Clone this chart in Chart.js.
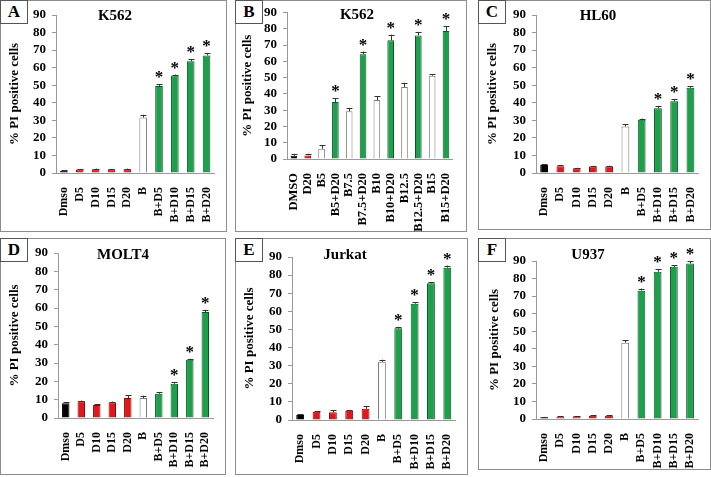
<!DOCTYPE html>
<html>
<head>
<meta charset="utf-8">
<script src="https://cdn.jsdelivr.net/npm/chart.js@4.4.1/dist/chart.umd.min.js"></script>
<style>
    body { margin: 0; background: #fff; width: 711px; height: 477px; position: relative; overflow: hidden; }
    .panel { position: absolute; box-sizing: border-box; border: 1px solid #8c8c8c; }
    .panel canvas { position: absolute; left: -1px; top: -1px; }
    .tag {
        position: absolute; left: -1px; top: -1px; width: 28px; height: 24px;
        box-sizing: border-box; border: 1px solid #555; background: #fff;
        font: bold 17px "Liberation Serif", serif; text-align: center; line-height: 22px;
    }
</style>
</head>
<body>
<script>
// categories
const stdLabels = ['Dmso', 'D5', 'D10', 'D15', 'D20', 'B', 'B+D5', 'B+D10', 'B+D15', 'B+D20'];
const labelsB = ['DMSO', 'D20', 'B5', 'B5+D20', 'B7.5', 'B7.5+D20', 'B10', 'B10+D20', 'B12.5', 'B12.5+D20', 'B15', 'B15+D20'];

// % PI positive cells (mean, error, significance)
const valuesA = [1.2, 2.0, 2.2, 2.0, 2.2, 31.6, 49.6, 55.5, 63.6, 67.0];
const errorsA = [0.3, 0.3, 0.3, 0.3, 0.3, 1.6, 1.0, 0.6, 1.2, 1.3];
const starsA = [0, 0, 0, 0, 0, 0, 1, 1, 1, 1];

const valuesB = [2.0, 2.2, 6.3, 35.0, 29.4, 64.4, 36.2, 72.9, 44.3, 75.9, 51.2, 78.7];
const errorsB = [1.2, 1.0, 2.0, 2.3, 2.0, 1.6, 2.5, 3.5, 2.5, 2.2, 1.0, 3.0];
const starsB = [0, 0, 0, 1, 0, 1, 0, 1, 0, 1, 0, 1];

const valuesC = [4.6, 3.9, 2.7, 3.7, 3.7, 26.5, 30.3, 36.9, 40.8, 48.5];
const errorsC = [0.4, 0.4, 0.3, 0.4, 0.5, 1.2, 0.7, 1.0, 1.2, 0.8];
const starsC = [0, 0, 0, 0, 0, 0, 0, 1, 1, 1];

const valuesD = [8.1, 9.2, 7.1, 8.5, 10.9, 10.9, 13.2, 18.7, 31.8, 57.8];
const errorsD = [0.4, 0.3, 0.3, 0.5, 1.5, 1.3, 0.9, 1.0, 0.5, 1.2];
const starsD = [0, 0, 0, 0, 0, 0, 0, 1, 1, 1];

const valuesE = [2.8, 4.6, 4.3, 5.1, 6.2, 32.1, 50.6, 64.2, 75.5, 84.1];
const errorsE = [0.3, 0.4, 1.2, 0.4, 1.3, 1.2, 0.8, 0.8, 0.6, 1.2];
const starsE = [0, 0, 0, 0, 0, 0, 1, 1, 1, 1];

const valuesF = [1.0, 1.3, 1.5, 1.8, 1.9, 43.5, 73.1, 83.9, 86.7, 88.6];
const errorsF = [0.2, 0.2, 0.2, 0.2, 0.2, 1.3, 1.2, 1.3, 1.0, 1.3];
const starsF = [0, 0, 0, 0, 0, 0, 1, 1, 1, 1];

const yMin = 0;
const yMax = 90;
const yStep = 10;

// bar kinds per category
const stdKinds = ['black', 'red', 'red', 'red', 'red', 'white', 'green', 'green', 'green', 'green'];
const kindsB = ['black', 'red', 'white', 'green', 'white', 'green', 'white', 'green', 'white', 'green', 'white', 'green'];

const FILL = { black: '#000000', red: '#e3161c', white: '#ffffff', green: '#1e9f4c' };
const EDGE = { black: '#000000', red: '#7a0c0c', white: '#7a7a7a', green: '#0c5526' };
const SERIF = '"Liberation Serif", "Times New Roman", serif';
const AXIS = '#9a9a9a';

// error bars, asterisks and the cell line title
const extras = {
    id: 'extras',
    afterDatasetsDraw(chart) {
        const cfg = chart.options.plugins.extras;
        const ctx = chart.ctx;
        const y = chart.scales.y;
        const bars = chart.getDatasetMeta(0).data;
        const values = chart.data.datasets[0].data;

        ctx.save();
        ctx.strokeStyle = '#333';
        ctx.lineWidth = 1;
        bars.forEach((bar, i) => {
            const top = y.getPixelForValue(values[i] + cfg.errors[i]);
            const base = y.getPixelForValue(values[i]);
            const x = Math.round(bar.x) + 0.5;
            ctx.beginPath();
            ctx.moveTo(x, base);
            ctx.lineTo(x, top);
            ctx.moveTo(x - 3, Math.round(top) + 0.5);
            ctx.lineTo(x + 3, Math.round(top) + 0.5);
            ctx.stroke();

            if (cfg.stars[i]) {
                ctx.fillStyle = '#000';
                ctx.font = `bold 17px ${SERIF}`;
                ctx.textAlign = 'center';
                ctx.textBaseline = 'alphabetic';
                ctx.fillText('*', bar.x, top - 2);
            }
        });

        ctx.fillStyle = '#000';
        ctx.font = `bold 15px ${SERIF}`;
        ctx.textAlign = 'center';
        ctx.textBaseline = 'middle';
        ctx.fillText(cfg.title, cfg.titleX, cfg.titleY);
        ctx.restore();
    }
};

function makePanel(p) {
    const box = document.createElement('div');
    box.className = 'panel';
    Object.assign(box.style, {
        left: p.left + 'px', top: p.top + 'px', width: p.w + 'px', height: p.h + 'px'
    });
    const canvas = document.createElement('canvas');
    canvas.width = p.w;
    canvas.height = p.h;
    box.appendChild(canvas);
    const tag = document.createElement('div');
    tag.className = 'tag';
    tag.textContent = p.tag;
    box.appendChild(tag);
    document.body.appendChild(box);

    new Chart(canvas, {
        type: 'bar',
        data: {
            labels: p.labels,
            datasets: [{
                data: p.values,
                backgroundColor: p.kinds.map(k => FILL[k]),
                borderColor: p.kinds.map(k => EDGE[k]),
                borderWidth: 1,
                barPercentage: 0.48,
                categoryPercentage: 1
            }]
        },
        options: {
            responsive: false,
            animation: false,
            layout: { padding: { top: p.plotTop, right: p.w - p.plotRight, left: 0, bottom: 0 } },
            plugins: {
                legend: { display: false },
                tooltip: { enabled: false },
                extras: {
                    errors: p.errors, stars: p.stars, title: p.title,
                    titleX: p.titleX, titleY: p.titleY
                }
            },
            scales: {
                x: {
                    grid: { display: false },
                    border: { color: AXIS },
                    ticks: {
                        color: '#000',
                        font: { family: SERIF, size: p.xFont, weight: 'bold' },
                        minRotation: 90,
                        maxRotation: 90,
                        autoSkip: false,
                        padding: 6
                    },
                    afterFit: s => { s.height = p.h - p.plotBottom; }
                },
                y: {
                    min: yMin,
                    max: yMax,
                    grid: { drawOnChartArea: false, tickLength: 4, color: AXIS },
                    border: { color: AXIS },
                    ticks: {
                        stepSize: yStep,
                        color: '#000',
                        padding: 6,
                        font: { family: SERIF, size: 13, weight: 'bold', lineHeight: 1 }
                    },
                    title: {
                        display: true,
                        text: '% PI positive cells',
                        color: '#000',
                        font: { family: SERIF, size: 13, weight: 'bold', lineHeight: 1.2 },
                        padding: { top: p.yTitleX - 8, bottom: 0 }
                    },
                    afterFit: s => { s.width = p.plotLeft; }
                }
            }
        },
        plugins: [extras]
    });
}

makePanel({
    tag: 'A', title: 'K562', left: 0, top: 0, w: 227, h: 232,
    plotLeft: 56, plotTop: 15, plotBottom: 173, plotRight: 226,
    titleX: 115, titleY: 16, yTitleX: 15, xFont: 12,
    labels: stdLabels, kinds: stdKinds, values: valuesA, errors: errorsA, stars: starsA
});
makePanel({
    tag: 'B', title: 'K562', left: 235, top: 0, w: 232, h: 232,
    plotLeft: 52, plotTop: 8, plotBottom: 159, plotRight: 231,
    titleX: 122, titleY: 15, yTitleX: 13, xFont: 12.5,
    labels: labelsB, kinds: kindsB, values: valuesB, errors: errorsB, stars: starsB
});
makePanel({
    tag: 'C', title: 'HL60', left: 478, top: 0, w: 233, h: 230,
    plotLeft: 58, plotTop: 15, plotBottom: 173, plotRight: 230,
    titleX: 120, titleY: 16, yTitleX: 15, xFont: 12,
    labels: stdLabels, kinds: stdKinds, values: valuesC, errors: errorsC, stars: starsC
});
makePanel({
    tag: 'D', title: 'MOLT4', left: 0, top: 238, w: 226, h: 237,
    plotLeft: 58, plotTop: 15, plotBottom: 180, plotRight: 220,
    titleX: 123, titleY: 17, yTitleX: 15, xFont: 12,
    labels: stdLabels, kinds: stdKinds, values: valuesD, errors: errorsD, stars: starsD
});
makePanel({
    tag: 'E', title: 'Jurkat', left: 235, top: 238, w: 233, h: 237,
    plotLeft: 57, plotTop: 19, plotBottom: 182, plotRight: 227,
    titleX: 110, titleY: 17, yTitleX: 15, xFont: 12,
    labels: stdLabels, kinds: stdKinds, values: valuesE, errors: errorsE, stars: starsE
});
makePanel({
    tag: 'F', title: 'U937', left: 478, top: 238, w: 233, h: 232,
    plotLeft: 58, plotTop: 23, plotBottom: 181, plotRight: 222,
    titleX: 110, titleY: 17, yTitleX: 17, xFont: 12,
    labels: stdLabels, kinds: stdKinds, values: valuesF, errors: errorsF, stars: starsF
});
</script>
</body>
</html>
